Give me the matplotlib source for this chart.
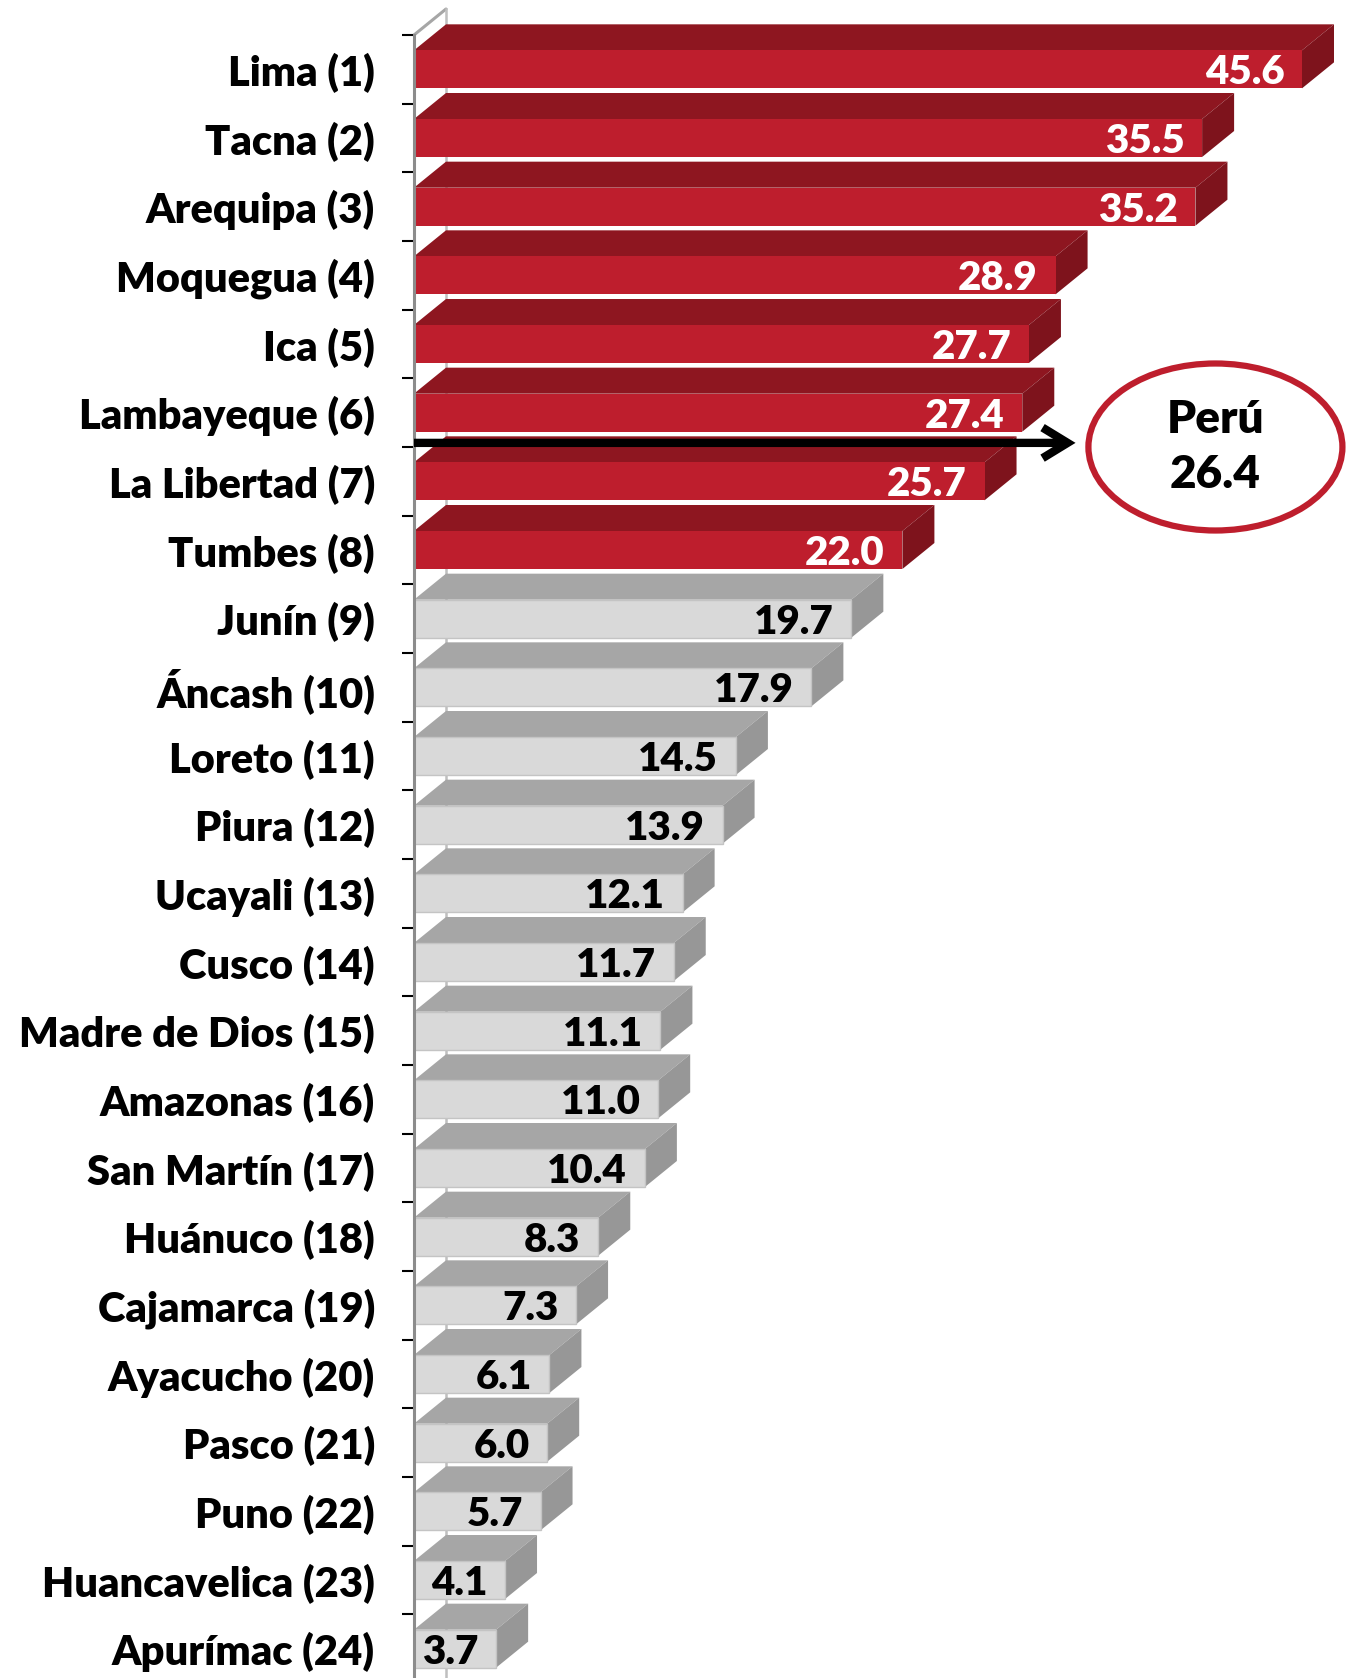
import matplotlib
matplotlib.use("Agg")
import matplotlib.pyplot as plt
from matplotlib.patches import Polygon, Rectangle, Ellipse

plt.rcParams['font.family'] = ['Lato', 'DejaVu Sans']

regions = ["Lima (1)", "Tacna (2)", "Arequipa (3)", "Moquegua (4)", "Ica (5)",
           "Lambayeque (6)", "La Libertad (7)", "Tumbes (8)", "Junín (9)",
           "Áncash (10)", "Loreto (11)", "Piura (12)", "Ucayali (13)",
           "Cusco (14)", "Madre de Dios (15)", "Amazonas (16)",
           "San Martín (17)", "Huánuco (18)", "Cajamarca (19)",
           "Ayacucho (20)", "Pasco (21)", "Puno (22)", "Huancavelica (23)",
           "Apurímac (24)"]
values = [45.6, 35.5, 35.2, 28.9, 27.7, 27.4, 25.7, 22.0, 19.7, 17.9, 14.5,
          13.9, 12.1, 11.7, 11.1, 11.0, 10.4, 8.3, 7.3, 6.1, 6.0, 5.7, 4.1, 3.7]
peru_label = "Perú"
peru_value = 26.4
n_above = 8  # regions above national average (red)

XMAX = 40
RED_FRONT, RED_TOP, RED_SIDE = "#BE1E2D", "#8E1620", "#7E131C"
GR_FRONT, GR_TOP, GR_SIDE = "#D9D9D9", "#A6A6A6", "#979797"

W, H = 1353, 1678
fig = plt.figure(figsize=(W / 100, H / 100), dpi=100)
left_px, right_px, top_px, bot_px = 414, 1302, 35, 1683
ax = fig.add_axes([left_px / W, 1 - bot_px / H, (right_px - left_px) / W,
                   (bot_px - top_px) / H])
n = len(values)
ax.set_xlim(0, XMAX)
ax.set_ylim(n - 0.5, -0.5)

px_x = (right_px - left_px) / XMAX
px_y = (bot_px - top_px) / n
DX = 32 / px_x
DY = 26 / px_y
HH = 19 / px_y

# back wall edge lines
ax.plot([0, DX], [-0.5, -0.5 - DY], color="#A6A6A6", lw=2.2, clip_on=False,
        zorder=1, solid_capstyle="round")
ax.plot([DX, DX], [-0.5 - DY, n], color="#BFBFBF", lw=1.8, clip_on=False,
        zorder=1)

for i, v in enumerate(values):
    w = min(v, XMAX)
    red = i < n_above
    fc, tc, sc = (RED_FRONT, RED_TOP, RED_SIDE) if red else (GR_FRONT, GR_TOP, GR_SIDE)
    y0, y1 = i - HH, i + HH
    top = Polygon([(0, y0), (w, y0), (w + DX, y0 - DY), (DX, y0 - DY)],
                  closed=True, facecolor=tc, edgecolor="none", clip_on=False, zorder=3)
    side = Polygon([(w, y0), (w + DX, y0 - DY), (w + DX, y1 - DY), (w, y1)],
                   closed=True, facecolor=sc, edgecolor="none", clip_on=False, zorder=3)
    front = Rectangle((0, y0), w, y1 - y0, facecolor=fc,
                      edgecolor=("none" if red else "#C4C4C4"), lw=1,
                      clip_on=False, zorder=4)
    for p in (top, side, front):
        ax.add_patch(p)
    ax.text(w - 0.8, i + 0.22, f"{v:.1f}", ha="right", va="baseline",
            fontsize=29, fontweight="heavy",
            color="white" if red else "black", zorder=6)

# national average arrow
y_arrow = 5.44
ax.annotate("", xy=(29.8, y_arrow), xytext=(0, y_arrow),
            arrowprops=dict(arrowstyle="->,head_length=0.9,head_width=0.55",
                            lw=6, color="black", shrinkA=0, shrinkB=0,
                            mutation_scale=20, joinstyle="miter", capstyle="butt"),
            zorder=7, annotation_clip=False)

ell = Ellipse((36.1, 5.5), 254 / px_x, 167 / px_y, facecolor="white",
              edgecolor=RED_FRONT, lw=4.5, clip_on=False, zorder=7)
ax.add_patch(ell)
ax.text(36.1, 5.5, f"{peru_label}\n{peru_value:.1f}", ha="center", va="center",
        fontsize=33, fontweight="heavy", color="black", linespacing=1.4,
        zorder=8)

# axes styling
for s in ("top", "right", "bottom"):
    ax.spines[s].set_visible(False)
ax.spines["left"].set_color("#8C8C8C")
ax.spines["left"].set_linewidth(2.2)
ax.spines["left"].set_zorder(5)
ax.set_xticks([])
ax.set_yticks(range(n))
ax.set_yticklabels(regions, fontsize=30, fontweight="heavy")
ax.tick_params(axis="y", which="major", length=0, pad=28)
ax.set_yticks([i - 0.5 for i in range(n + 1)], minor=True)
ax.tick_params(axis="y", which="minor", length=9, width=1.5, color="black")
ax.set_facecolor("none")

fig.savefig("out.png", dpi=100)
